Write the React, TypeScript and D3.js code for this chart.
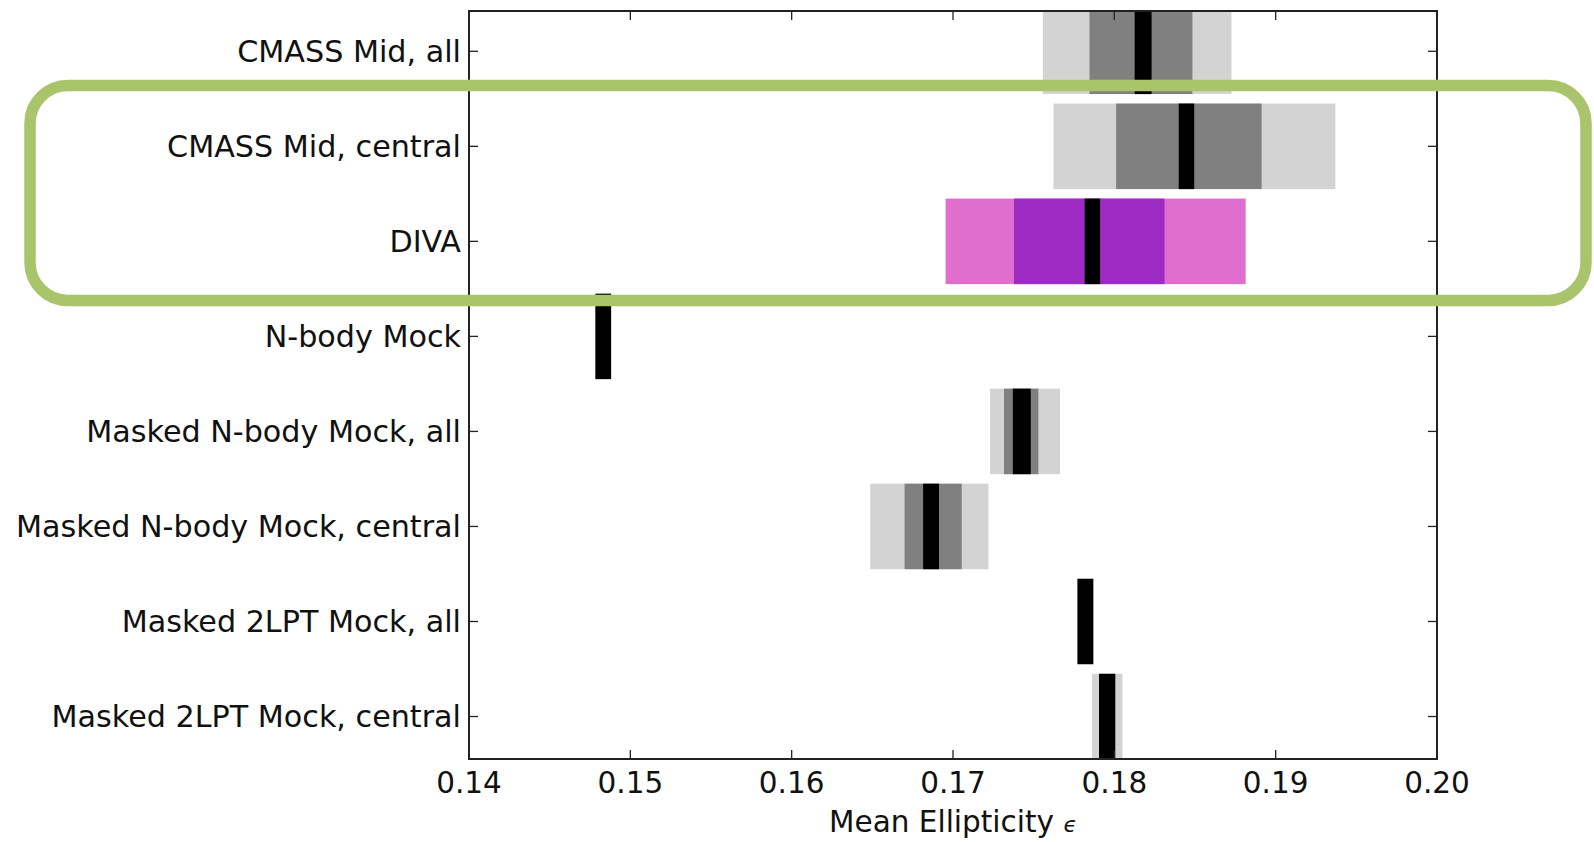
import React, { useEffect } from "react";
import * as d3 from "d3";

const categories = [
  "CMASS Mid, all",
  "CMASS Mid, central",
  "DIVA",
  "N-body Mock",
  "Masked N-body Mock, all",
  "Masked N-body Mock, central",
  "Masked 2LPT Mock, all",
  "Masked 2LPT Mock, central",
];

// outer (2-sigma) band
const outerLo: (number | null)[] = [0.17557, 0.17623, 0.16954, null, 0.1723, 0.16487, null, 0.17861];
const outerHi: (number | null)[] = [0.18726, 0.1937, 0.18814, null, 0.17663, 0.1722, null, 0.1805];
// inner (1-sigma) band
const innerLo: (number | null)[] = [0.17846, 0.18011, 0.17378, null, 0.17316, 0.167, null, null];
const innerHi: (number | null)[] = [0.18484, 0.18913, 0.18311, null, 0.17529, 0.17054, null, null];
// central value band
const medLo: number[] = [0.18126, 0.18399, 0.17816, 0.14783, 0.17371, 0.16815, 0.17771, 0.17905];
const medHi: number[] = [0.18231, 0.18495, 0.17912, 0.14881, 0.17482, 0.16913, 0.1787, 0.18006];

const outerColors = ["#d3d3d3", "#d3d3d3", "#e06ecf", "#d3d3d3", "#d3d3d3", "#d3d3d3", "#d3d3d3", "#d3d3d3"];
const innerColors = ["#808080", "#808080", "#9d2bc4", "#808080", "#808080", "#808080", "#808080", "#808080"];

const xTicks = [0.14, 0.15, 0.16, 0.17, 0.18, 0.19, 0.2];
const xTickLabels = ["0.14", "0.15", "0.16", "0.17", "0.18", "0.19", "0.20"];

export default function App() {
  useEffect(() => {
    document.body.style.margin = "0";
  }, []);

  const W = 1594;
  const H = 842;
  const left = 469;
  const right = 1437;
  const top = 11;
  const bottom = 759;

  const x = d3.scaleLinear().domain([0.14, 0.2]).range([left, right]);
  const y = d3.scaleLinear().domain([-0.424, 7.447]).range([top, bottom]);
  const barH = y(0.9) - y(0);
  const font = "'DejaVu Sans', sans-serif";
  const tickLen = 9;

  const band = (lo: number | null, hi: number | null, i: number, fill: string, key: string) =>
    lo == null || hi == null ? null : (
      <rect key={key} x={x(lo)} y={y(i) - barH / 2} width={x(hi) - x(lo)} height={barH} fill={fill} />
    );

  return (
    <svg width={W} height={H} style={{ display: "block", position: "absolute", left: 0, top: 0 }}>
      <rect x={0} y={0} width={W} height={H} fill="#fff" />
      <defs>
        <clipPath id="plotclip">
          <rect x={left} y={top} width={right - left} height={bottom - top} />
        </clipPath>
      </defs>
      <g clipPath="url(#plotclip)">
        {categories.map((c, i) => (
          <g key={c}>
            {band(outerLo[i], outerHi[i], i, outerColors[i], "o")}
            {band(innerLo[i], innerHi[i], i, innerColors[i], "i")}
            {band(medLo[i], medHi[i], i, "#000", "m")}
          </g>
        ))}
      </g>
      {/* ticks */}
      <g stroke="#222" strokeWidth={1.3}>
        {xTicks.map((t) => (
          <g key={t}>
            <line x1={x(t)} x2={x(t)} y1={bottom} y2={bottom - tickLen} />
            <line x1={x(t)} x2={x(t)} y1={top} y2={top + tickLen} />
          </g>
        ))}
        {categories.map((c, i) => (
          <g key={c}>
            <line x1={left} x2={left + tickLen} y1={y(i)} y2={y(i)} />
            <line x1={right} x2={right - tickLen} y1={y(i)} y2={y(i)} />
          </g>
        ))}
      </g>
      <rect x={left} y={top} width={right - left} height={bottom - top} fill="none" stroke="#222" strokeWidth={2} />
      {/* y labels */}
      <g fontFamily={font} fontSize={30.2} fill="#111" textAnchor="end">
        {categories.map((c, i) => (
          <text key={c} x={left - 8} y={y(i)} dy="0.35em">
            {c}
          </text>
        ))}
      </g>
      {/* x tick labels */}
      <g fontFamily={font} fontSize={29.5} fill="#111" textAnchor="middle">
        {xTicks.map((t, k) => (
          <text key={t} x={x(t)} y={793}>
            {xTickLabels[k]}
          </text>
        ))}
      </g>
      <text x={(left + right) / 2} y={832} fontFamily={font} fontSize={29.5} fill="#111" textAnchor="middle">
        Mean Ellipticity <tspan fontStyle="italic" fontSize={22}>ϵ</tspan>
      </text>
      {/* highlight box */}
      <rect x={30} y={85.5} width={1556} height={215} rx={38} ry={38} fill="none" stroke="#aac46b" strokeWidth={11.5} />
    </svg>
  );
}
